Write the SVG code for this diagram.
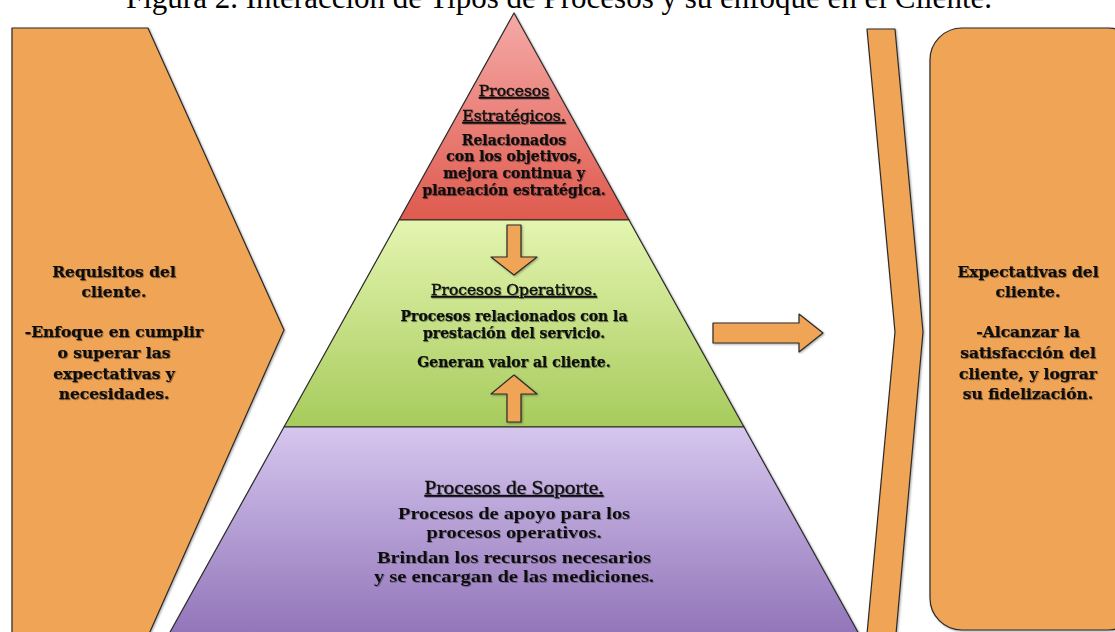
<svg xmlns="http://www.w3.org/2000/svg" width="1115" height="632" viewBox="0 0 1115 632">
  <defs>
    <linearGradient id="gRed" x1="0" y1="13" x2="0" y2="220" gradientUnits="userSpaceOnUse">
      <stop offset="0" stop-color="#F5AAA7"/>
      <stop offset="1" stop-color="#DF5A4E"/>
    </linearGradient>
    <linearGradient id="gGreen" x1="0" y1="220" x2="0" y2="427" gradientUnits="userSpaceOnUse">
      <stop offset="0" stop-color="#E4F5B0"/>
      <stop offset="1" stop-color="#A7CB5C"/>
    </linearGradient>
    <linearGradient id="gPurple" x1="0" y1="427" x2="0" y2="632" gradientUnits="userSpaceOnUse">
      <stop offset="0" stop-color="#D5C6EE"/>
      <stop offset="1" stop-color="#9376BA"/>
    </linearGradient>
    <filter id="sh" x="-5%" y="-5%" width="110%" height="110%">
      <feDropShadow dx="1" dy="1" stdDeviation="1" flood-color="#000" flood-opacity="0.35"/>
    </filter>
    <filter id="tsh" x="-5%" y="-20%" width="110%" height="140%">
      <feDropShadow dx="1" dy="1" stdDeviation="0.6" flood-color="#000" flood-opacity="0.3"/>
    </filter>
  </defs>
  <style>
    .shape { stroke: #2a2a2a; stroke-width: 1.2; stroke-linejoin: round; filter: url(#sh); }
    .orange { fill: #F0A456; }
    .title { font-family: "Liberation Serif", "Times New Roman", serif; font-size: 31px; fill: #000; }
    .bk { font-family: "DejaVu Serif", "Liberation Serif", serif; font-weight: bold; fill: #111; stroke: #111; stroke-width: 0.25; text-anchor: middle; filter: url(#tsh); }
    .bkh { font-family: "DejaVu Serif", "Liberation Serif", serif; font-weight: normal; fill: #111; stroke: #111; stroke-width: 0.45; text-anchor: middle; text-decoration: underline; filter: url(#tsh); }
    .tm { font-family: "Liberation Serif", "Times New Roman", serif; font-weight: bold; fill: #111; text-anchor: middle; filter: url(#tsh); }
    .tmh { font-family: "Liberation Serif", "Times New Roman", serif; font-weight: normal; fill: #111; stroke: #111; stroke-width: 0.3; text-anchor: middle; text-decoration: underline; filter: url(#tsh); }
  </style>

  <text class="title" x="559" y="8" text-anchor="middle" textLength="866" lengthAdjust="spacingAndGlyphs">Figura 2. Interacción de Tipos de Procesos y su enfoque en el Cliente.</text>

  <g id="requisitos">
    <polygon class="shape orange" points="12,28 148,28 284,330 149,634 12,634"/>
    <text class="bk" font-size="15.5"><tspan x="114" y="277">Requisitos del</tspan><tspan x="114" y="297">cliente.</tspan><tspan x="114" y="337">-Enfoque en cumplir</tspan><tspan x="114" y="358">o superar las</tspan><tspan x="114" y="379">expectativas y</tspan><tspan x="114" y="399">necesidades.</tspan></text>
  </g>

  <g id="estrategicos">
    <polygon class="shape" fill="url(#gRed)" points="514,13 629,220 399,220"/>
    <text class="bkh" font-size="15.5" x="514" y="96">Procesos</text>
    <text class="bkh" font-size="15.5" x="514" y="121">Estratégicos.</text>
    <text class="bk" font-size="14"><tspan x="514" y="145">Relacionados</tspan><tspan x="514" y="161">con los objetivos,</tspan><tspan x="514" y="178">mejora continua y</tspan><tspan x="514" y="195">planeación estratégica.</tspan></text>
  </g>

  <g id="operativos">
    <polygon class="shape" fill="url(#gGreen)" points="399,220 629,220 744,427 284,427"/>
    <text class="bkh" font-size="15.5" x="514" y="295">Procesos Operativos.</text>
    <text class="bk" font-size="14"><tspan x="514" y="321">Procesos relacionados con la</tspan><tspan x="514" y="338">prestación del servicio.</tspan><tspan x="514" y="367">Generan valor al cliente.</tspan></text>
  </g>

  <g id="soporte">
    <polygon class="shape" fill="url(#gPurple)" points="284,427 744,427 859,634 169,634"/>
    <text class="tmh" font-size="18" x="514" y="494" textLength="179" lengthAdjust="spacingAndGlyphs">Procesos de Soporte.</text>
    <text class="tm" font-size="17" x="514" y="519" textLength="232" lengthAdjust="spacingAndGlyphs">Procesos de apoyo para los</text>
    <text class="tm" font-size="17" x="514" y="538" textLength="175" lengthAdjust="spacingAndGlyphs">procesos operativos.</text>
    <text class="tm" font-size="17" x="514" y="563" textLength="274" lengthAdjust="spacingAndGlyphs">Brindan los recursos necesarios</text>
    <text class="tm" font-size="17" x="514" y="582" textLength="280" lengthAdjust="spacingAndGlyphs">y se encargan de las mediciones.</text>
  </g>

  <g id="chevron">
    <polygon class="shape orange" points="867,29 895,29 923,332 896,634 867,634 895,332"/>
  </g>

  <g id="expectativas">
    <rect class="shape orange" x="930" y="28" width="210" height="602" rx="32" ry="32"/>
    <text class="bk" font-size="15.5"><tspan x="1028" y="277">Expectativas del</tspan><tspan x="1028" y="297">cliente.</tspan><tspan x="1028" y="337">-Alcanzar la</tspan><tspan x="1028" y="358">satisfacción del</tspan><tspan x="1028" y="379">cliente, y lograr</tspan><tspan x="1028" y="399">su fidelización.</tspan></text>
  </g>

  <g id="connectors">
    <polygon class="shape orange" points="507,225 521,225 521,257 537,257 514,275 491,257 507,257"/>
    <polygon class="shape orange" points="514,375 537,394 521,394 521,422 507,422 507,394 491,394"/>
    <polygon class="shape orange" points="713,323 799,323 799,314 823,333 799,352 799,343 713,343"/>
  </g>
</svg>
